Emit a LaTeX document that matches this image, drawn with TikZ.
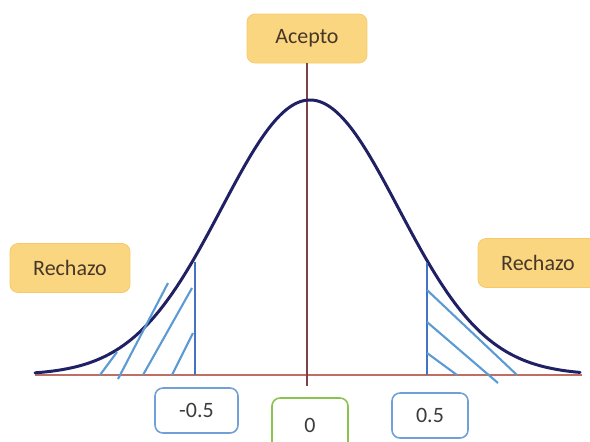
\documentclass[tikz,border=0pt]{standalone}
\usepackage{fontspec}
\setmainfont{Carlito}
\usetikzlibrary{positioning}
\definecolor{TagFill}{RGB}{251,214,128}
\definecolor{TagLine}{RGB}{246,200,105}
\definecolor{TagText}{RGB}{70,55,40}
\definecolor{ValText}{RGB}{60,60,60}
\definecolor{CurveColor}{RGB}{32,32,100}
\definecolor{AxisColor}{RGB}{190,110,100}
\definecolor{MidColor}{RGB}{125,65,70}
\definecolor{EdgeBlue}{RGB}{68,114,196}
\definecolor{HatchBlue}{RGB}{91,155,213}
\definecolor{ValBlue}{RGB}{112,160,215}
\definecolor{ValGreen}{RGB}{140,195,80}

\begin{document}
\begin{tikzpicture}[x=0.02cm, y=-0.02cm,
    tag/.style={rounded corners=4.5pt, fill=TagFill, draw=TagLine, text=TagText, minimum width=2.4cm, minimum height=0.98cm, font=\fontsize{12.5}{15}\selectfont},
    val/.style={rounded corners=4.5pt, draw=ValBlue, line width=0.9pt, fill=white, text=ValText, minimum height=0.9cm, font=\fontsize{12.5}{15}\selectfont},
    cutline/.style={EdgeBlue, line width=1.3pt},
    hatch/.style={HatchBlue, line width=1.2pt}]
  \clip (0,0) rectangle (590,441);

  % axes
  \coordinate (axl) at (35,375);
  \coordinate (axr) at (582,375);
  \coordinate (midlow) at (309,386);
  \draw[AxisColor, line width=0.9pt] (axl) -- (axr);

  % labels
  \node[tag] (acepto) at (307,38.5) {Acepto};
  \node[tag] (rechl) at (70,268) {Rechazo};
  \node[tag] (rechr) at (538,263) {Rechazo};
  \draw[MidColor, line width=0.8pt] (acepto.south) -- (acepto.south |- midlow);

  % normal curve
  \draw[CurveColor, line width=1.7pt, line cap=round] plot[domain=35:580, samples=120, smooth] ({\x},{375-275*exp(-((\x-310)/88.4)^2/2)});

  % left rejection area
  \draw[cutline] (195,262) -- (195,375);
  \draw[hatch] (100,375) -- (117,352);
  \draw[hatch] (118,379) -- (168,283);
  \draw[hatch] (143,375) -- (192,288);
  \draw[hatch] (172,375) -- (193,333);

  % right rejection area
  \draw[cutline] (427,263) -- (427,375);
  \draw[hatch] (427,290) -- (517,375);
  \draw[hatch] (427,322) -- (498,383);
  \draw[hatch] (427,353) -- (457,375);

  % critical values
  \node[val, minimum width=1.66cm] (vneg) at (196.5,410.5) {-0.5};
  \node[val, draw=ValGreen, minimum width=1.52cm, minimum height=1.08cm] (vzero) at (310,425) {0};
  \node[val, minimum width=1.52cm] (vpos) at (430,415.5) {0.5};
\end{tikzpicture}
\end{document}
